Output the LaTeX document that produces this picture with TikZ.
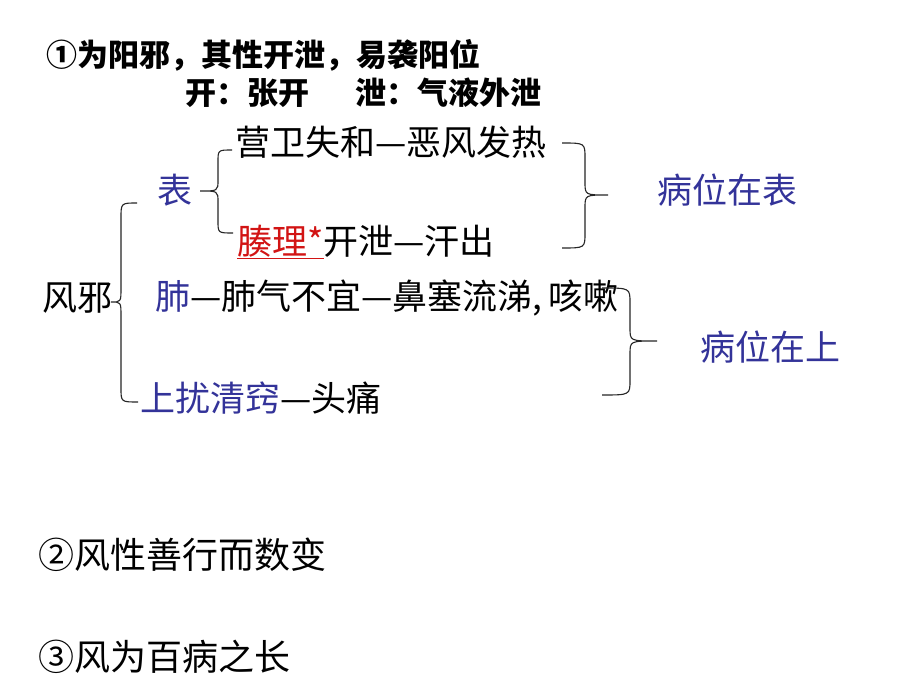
\documentclass[tikz,border=0pt]{standalone}
\usepackage{fontspec}
\setmainfont{Noto Sans CJK SC}
\definecolor{myblue}{RGB}{51,51,153}
\definecolor{myred}{RGB}{210,20,20}
\tikzset{
 txt/.style={anchor=west, inner sep=0pt, font=\fontsize{35}{35}\selectfont, text=black},
 big/.style={anchor=west, inner sep=0pt, font=\fontsize{36}{36}\selectfont, text=black},
 hdr/.style={anchor=west, inner sep=0pt, font=\fontsize{31}{31}\selectfont\bfseries, text=black},
 blu/.style={txt, text=myblue},
 brc/.style={draw=black!85, line width=1.1pt},
}
\begin{document}
\begin{tikzpicture}[x=1pt,y=-1pt]
\useasboundingbox (0,0) rectangle (920,690);
\fill[white] (0,0) rectangle (920,690);
% header lines
\node[hdr] (l1) at (46,55) {①为阳邪，其性开泄，易袭阳位};
\node[hdr] (l2a) at (185,93) {开：张开};
\node[hdr] (l2b) at (355,93) {泄：气液外泄};
% tree
\node[txt] (fx) at (42,298) {风邪};
\node[blu] (biao) at (157,190) {表};
\node[txt] (ying) at (235,142) {营卫失和—恶风发热};
\node[txt] (cou) at (237,242) {\textcolor{myred}{\underline{腠理*}}开泄—汗出};
\node[txt] (fei) at (155,298) {\textcolor{myblue}{肺}—肺气不宜—鼻塞流涕,\,咳嗽};
\node[txt] (shang) at (140,398) {\textcolor{myblue}{上扰清窍}—头痛};
\node[blu] (bwb) at (657,190) {病位在表};
\node[blu] (bws) at (700,347) {病位在上};
% bottom lines
\node[big] (l4) at (38,555) {②风性善行而数变};
\node[big] (l5) at (38,657) {③风为百病之长};
% braces
% left brace at 表
\draw[brc] (232,150) .. controls (218,150) .. (218,162) -- (218,180)
  .. controls (218,191) .. (200,191) .. controls (218,191) .. (218,202)
  -- (218,221) .. controls (218,233) .. (233,233);
% big left brace at 风邪
\draw[brc] (137,203) .. controls (121,203) .. (121,218) -- (121,288)
  .. controls (121,302) .. (111,302) .. controls (121,302) .. (121,316)
  -- (121,388) .. controls (121,402) .. (138,402);
% right brace 病位在表
\draw[brc] (562,143) .. controls (585,143) .. (585,158) -- (585,182)
  .. controls (585,195) .. (608,195) .. controls (585,195) .. (585,208)
  -- (585,233) .. controls (585,248) .. (562,248);
% right brace 病位在上
\draw[brc] (602,288) .. controls (630,288) .. (630,303) -- (630,328)
  .. controls (630,341) .. (657,341) .. controls (630,341) .. (630,354)
  -- (630,380) .. controls (630,395) .. (602,395);
\end{tikzpicture}
\end{document}
